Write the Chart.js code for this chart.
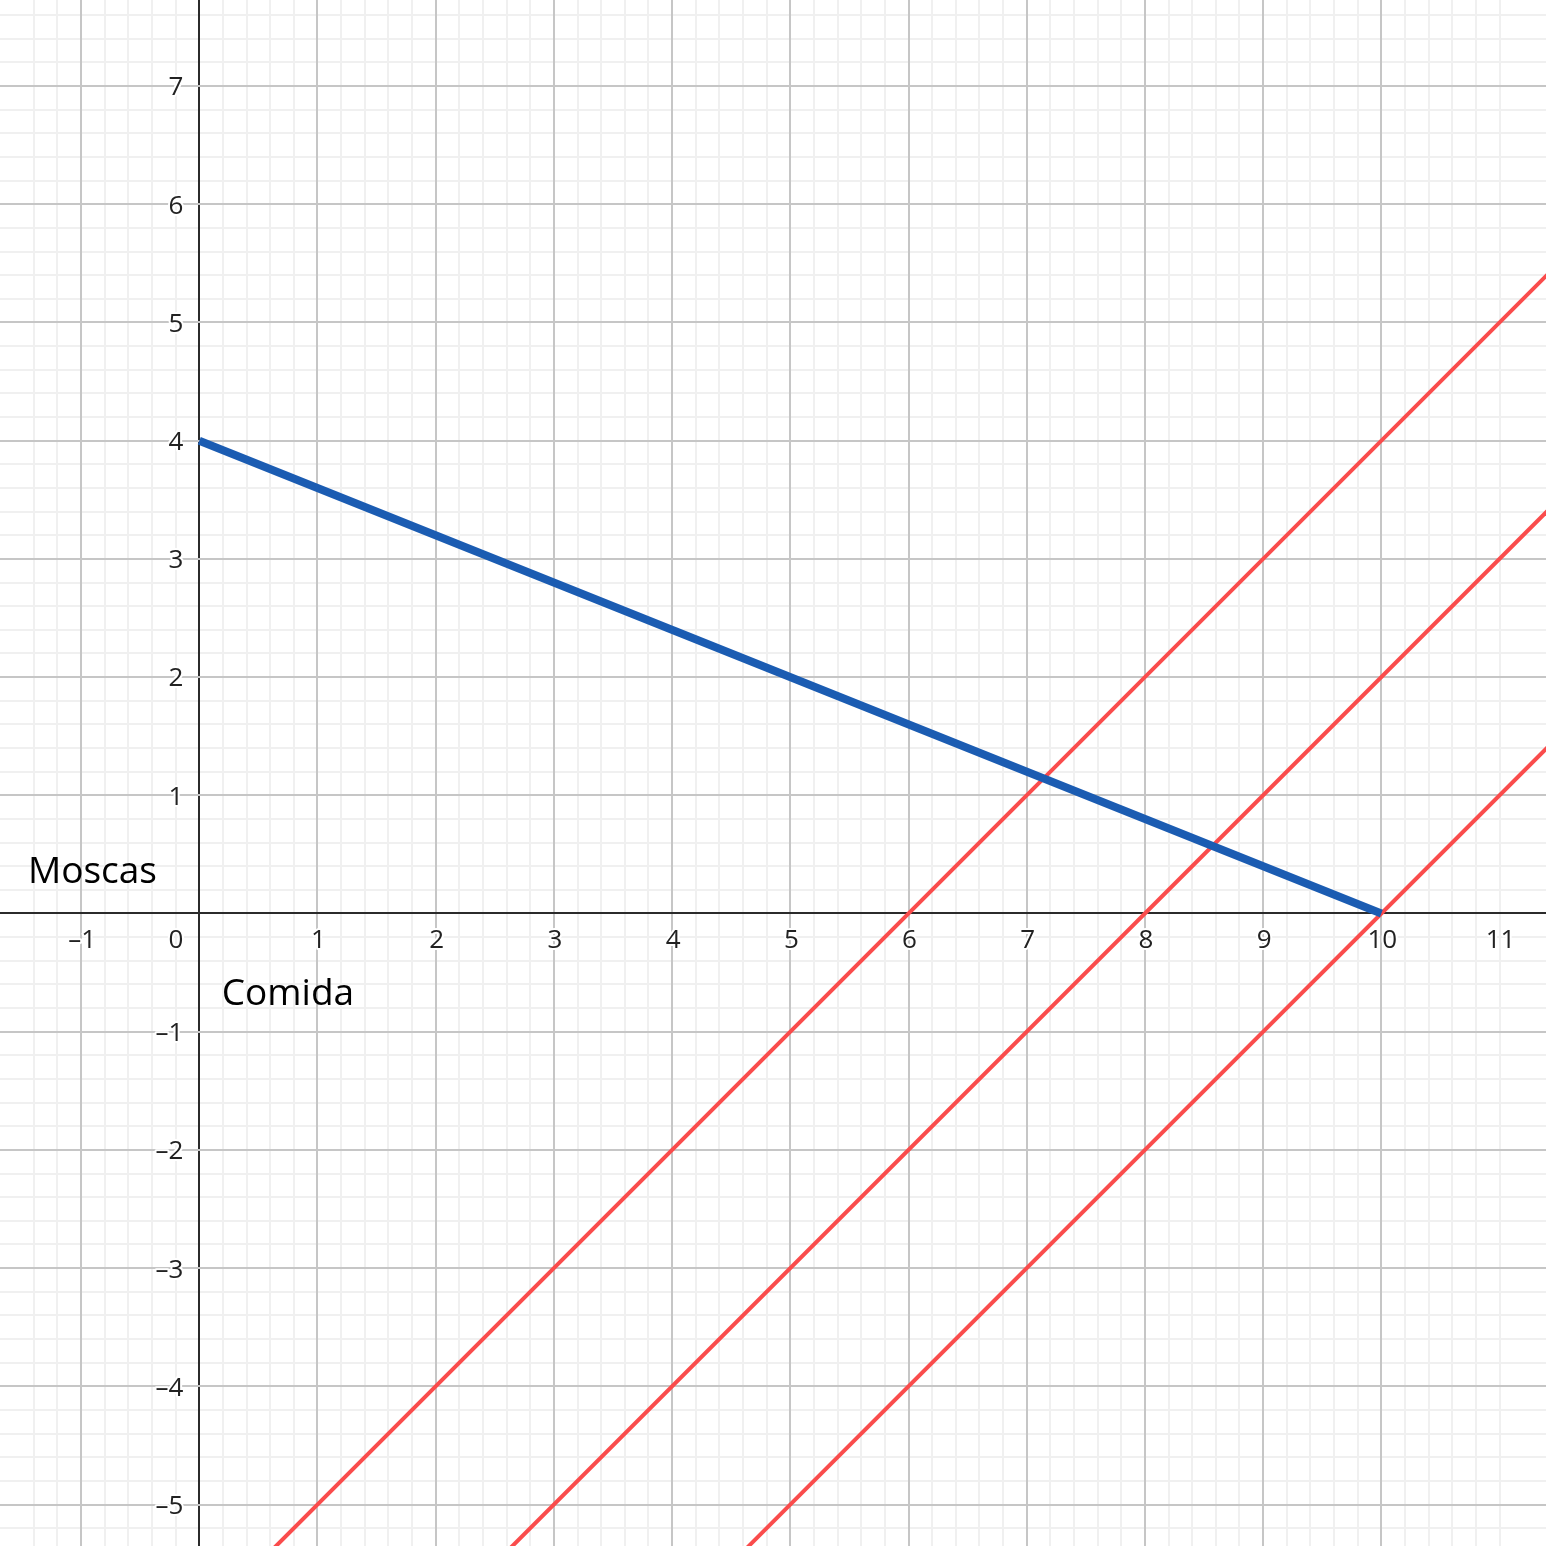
<!DOCTYPE html>
<html>
<head>
<meta charset="utf-8">
<script src="https://cdn.jsdelivr.net/npm/chart.js@4.4.0/dist/chart.umd.min.js"></script>
<style>
  html, body { margin: 0; padding: 0; background: #fff; }
  #wrap { width: 1546px; height: 1546px; }
</style>
</head>
<body>
<div id="wrap"><canvas id="grafico" width="1546" height="1546"></canvas></div>
<script>
// vista del plano
const rangoX = [-1.686, 11.393];
const rangoY = [-5.351, 7.728];

// recta de presupuesto (azul): de (0,4) a (10,0)
const presupuestoX = [0, 10];
const presupuestoY = [4, 0];

// rectas rojas y = x - c
const rojasCorte = [6, 8, 10];
const rojasX = [0, 13];

// etiquetas de los ejes
const etiquetasX = [-1, 1, 2, 3, 4, 5, 6, 7, 8, 9, 10, 11];
const etiquetasY = [-5, -4, -3, -2, -1, 1, 2, 3, 4, 5, 6, 7];
const nombreEjes = [
  { texto: 'Moscas', x: -1.45, y: 0.26 },
  { texto: 'Comida', x: 0.19, y: -0.775 }
];

const AZUL = 'rgb(27, 92, 178)';
const ROJO = 'rgb(250, 76, 76)';
const FUENTE = "'Open Sans', 'Noto Sans', sans-serif";

const datasets = [
  {
    data: presupuestoX.map((x, i) => ({ x, y: presupuestoY[i] })),
    borderColor: AZUL,
    borderWidth: 8,
    borderCapStyle: 'butt',
    pointRadius: 0,
    showLine: true,
    order: 0
  },
  ...rojasCorte.map(c => ({
    data: rojasX.map(x => ({ x, y: x - c })),
    borderColor: ROJO,
    borderWidth: 4,
    pointRadius: 0,
    showLine: true,
    order: 1
  }))
];

const esEntero = v => Math.abs(v - Math.round(v)) < 1e-6;
const esMenor = v => Math.abs(v * 5 - Math.round(v * 5)) < 1e-6;

function ejeMayor(rango, pos) {
  return {
    type: 'linear', position: pos, min: rango[0], max: rango[1],
    afterBuildTicks: s => { s.ticks = s.ticks.filter(t => esEntero(t.value)); },
    ticks: { display: false, stepSize: 1 },
    border: { display: false },
    grid: {
      z: -1, drawTicks: false,
      color: c => c.tick && c.tick.value === 0 ? '#2b2b2b' : '#c6c6c6',
      lineWidth: 2
    }
  };
}
function ejeMenor(rango, pos) {
  return {
    type: 'linear', position: pos, min: rango[0], max: rango[1],
    afterBuildTicks: s => { s.ticks = s.ticks.filter(t => esMenor(t.value)); },
    ticks: { display: false, stepSize: 0.2, maxTicksLimit: 1000 },
    border: { display: false },
    grid: { z: -2, drawTicks: false, color: '#f0f0f0', lineWidth: 2 }
  };
}

// numeros de los ejes y nombres
const rotulos = {
  id: 'rotulos',
  afterDatasetsDraw(chart) {
    const { ctx, scales } = chart;
    const sx = scales.x, sy = scales.y;
    const x0 = sx.getPixelForValue(0), y0 = sy.getPixelForValue(0);
    const fmt = v => v < 0 ? '\u2013' + Math.abs(v) : String(v);
    ctx.save();
    ctx.font = '26px ' + FUENTE;
    ctx.fillStyle = '#222';
    ctx.strokeStyle = '#fff';
    ctx.lineWidth = 4;
    ctx.lineJoin = 'round';
    ctx.textBaseline = 'middle';
    ctx.textAlign = 'center';
    etiquetasX.forEach(v => {
      const px = sx.getPixelForValue(v) + 1;
      ctx.strokeText(fmt(v), px, y0 + 27);
      ctx.fillText(fmt(v), px, y0 + 27);
    });
    ctx.textAlign = 'right';
    etiquetasY.forEach(v => {
      const py = sy.getPixelForValue(v) + 2;
      ctx.strokeText(fmt(v), x0 - 16, py);
      ctx.fillText(fmt(v), x0 - 16, py);
    });
    ctx.strokeText('0', x0 - 16, y0 + 27);
    ctx.fillText('0', x0 - 16, y0 + 27);

    ctx.font = '37px ' + FUENTE;
    ctx.fillStyle = '#000';
    ctx.textAlign = 'left';
    ctx.textBaseline = 'alphabetic';
    nombreEjes.forEach(e => {
      ctx.fillText(e.texto, sx.getPixelForValue(e.x), sy.getPixelForValue(e.y));
    });
    ctx.restore();
  }
};

new Chart(document.getElementById('grafico'), {
  type: 'scatter',
  data: { datasets },
  options: {
    responsive: false,
    animation: false,
    layout: { padding: 0 },
    plugins: { legend: { display: false }, tooltip: { enabled: false }, title: { display: false } },
    scales: {
      xm: ejeMenor(rangoX, 'bottom'),
      ym: ejeMenor(rangoY, 'left'),
      x: ejeMayor(rangoX, 'bottom'),
      y: ejeMayor(rangoY, 'left')
    }
  },
  plugins: [rotulos]
});
</script>
</body>
</html>
